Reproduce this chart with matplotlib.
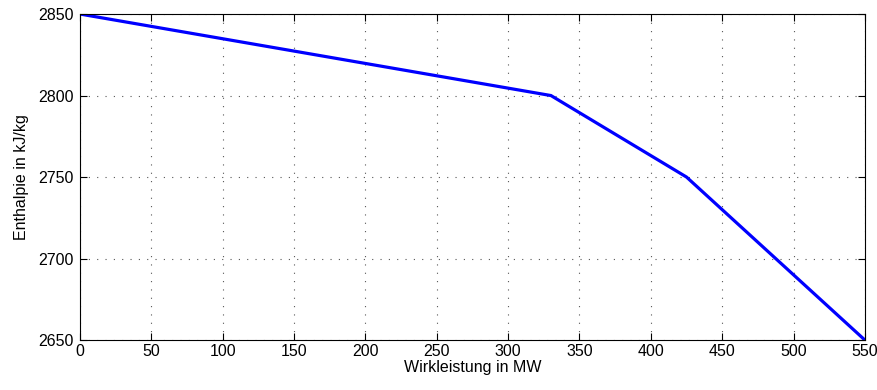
import matplotlib
matplotlib.use('Agg')
import matplotlib.pyplot as plt
import numpy as np

# Wirkleistung (MW) vs. Enthalpie (kJ/kg)
leistung = [0, 330, 425, 550]
enthalpie = [2850, 2800, 2750, 2650]

x_ticks = np.arange(0, 551, 50)
y_ticks = [2650, 2700, 2750, 2800, 2850]

plt.rcParams['font.family'] = ['Liberation Sans', 'DejaVu Sans']
plt.rcParams['font.size'] = 11.5

fig = plt.figure(figsize=(8.78, 3.9), dpi=100)
ax = fig.add_axes([0.0911, 0.128, 0.894, 0.836])
ax.plot(leistung, enthalpie, '-', color='#0000ff', linewidth=2.3, solid_joinstyle='miter')

ax.set_xlim(0, 550)
ax.set_ylim(2650, 2850)
ax.set_xticks(x_ticks)
ax.set_yticks(y_ticks)
ax.grid(True, linestyle=(0, (1, 6.5)), color='#555555', linewidth=0.8)
ax.tick_params(direction='in', top=True, right=True, length=5, width=0.8)
ax.tick_params(axis='y', pad=4.5)
ax.tick_params(axis='x', pad=3)
for s in ax.spines.values():
    s.set_linewidth(0.8)
ax.set_xlabel('Wirkleistung in MW', labelpad=0.5)
ax.set_ylabel('Enthalpie in kJ/kg', labelpad=7)

fig.savefig('out.png', dpi=100)
